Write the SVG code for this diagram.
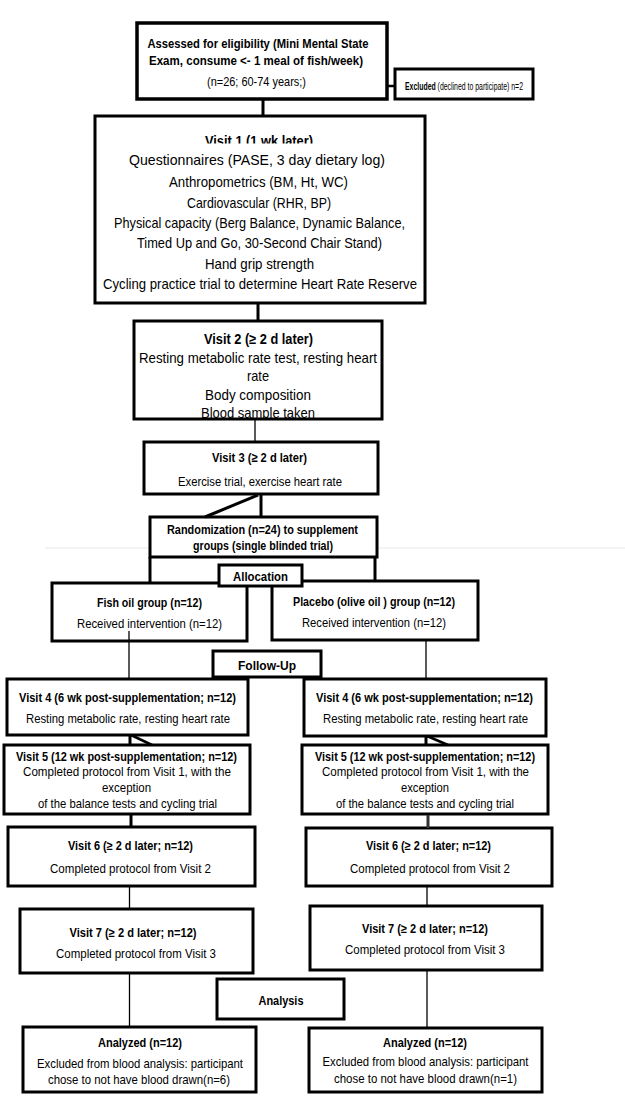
<svg xmlns="http://www.w3.org/2000/svg" width="625" height="1097" viewBox="0 0 625 1097">
<style>
.box{fill:#fff;stroke:#000;stroke-width:3}
.t{font-family:"Liberation Sans",Arial,sans-serif;fill:#000;text-anchor:middle}
.b{font-weight:bold}
.s13{font-size:13px}
.s14{font-size:14.5px}
.s12{font-size:12.5px}
.s11{font-size:11px}
.thick{stroke:#000;stroke-width:3;fill:none}
.thin{stroke:#000;stroke-width:1.3;fill:none}
</style>
<defs>
<clipPath id="cv1t"><rect x="95" y="118" width="330" height="25.5"/></clipPath>
<clipPath id="cv2"><rect x="134" y="321" width="248" height="97"/></clipPath>
</defs>
<rect width="625" height="1097" fill="#fff"/>
<line x1="45" y1="548" x2="625" y2="548" stroke="#e8e8e8" stroke-width="1"/>

<g id="assessed">
<rect class="box" x="137" y="23" width="250" height="76" style="stroke-width:3.5"/>
<text class="t b s13" x="258" y="47.5" textLength="221" lengthAdjust="spacingAndGlyphs">Assessed for eligibility (Mini Mental State</text>
<text class="t b s13" x="256" y="64.5" textLength="214" lengthAdjust="spacingAndGlyphs">Exam, consume &lt;- 1 meal of fish/week)</text>
<text class="t s13" x="256.5" y="85.5" textLength="99" lengthAdjust="spacingAndGlyphs">(n=26; 60-74 years;)</text>
</g>

<g id="excluded">
<rect class="box" x="395" y="69" width="138" height="30"/>
<text class="t s11" x="464" y="90" textLength="118" lengthAdjust="spacingAndGlyphs"><tspan class="b">Excluded</tspan> (declined to participate)  n=2</text>
</g>

<g id="visit1">
<rect class="box" x="95" y="116" width="330" height="187"/>
<text class="t b s14" x="259" y="146" textLength="108" lengthAdjust="spacingAndGlyphs" clip-path="url(#cv1t)">Visit 1 (1 wk later)</text>
<text class="t s14" x="257" y="165" textLength="256" lengthAdjust="spacingAndGlyphs">Questionnaires (PASE, 3 day dietary log)</text>
<text class="t s14" x="258.5" y="187" textLength="179" lengthAdjust="spacingAndGlyphs">Anthropometrics (BM, Ht, WC)</text>
<text class="t s14" x="259" y="208" textLength="144" lengthAdjust="spacingAndGlyphs">Cardiovascular (RHR, BP)</text>
<text class="t s14" x="259.5" y="228" textLength="291" lengthAdjust="spacingAndGlyphs">Physical capacity (Berg Balance, Dynamic Balance,</text>
<text class="t s14" x="259.5" y="248" textLength="245" lengthAdjust="spacingAndGlyphs">Timed Up and Go, 30-Second Chair Stand)</text>
<text class="t s14" x="259.5" y="269" textLength="109" lengthAdjust="spacingAndGlyphs">Hand grip strength</text>
<text class="t s14" x="260" y="289" textLength="314" lengthAdjust="spacingAndGlyphs">Cycling practice trial to determine Heart Rate Reserve</text>
</g>

<g id="visit2">
<g clip-path="url(#cv2)">
<text class="t b s14" x="258.5" y="344" textLength="109" lengthAdjust="spacingAndGlyphs">Visit 2 (≥ 2 d later)</text>
<text class="t s14" x="258" y="363" textLength="238" lengthAdjust="spacingAndGlyphs">Resting metabolic rate test, resting heart</text>
<text class="t s14" x="258" y="381" textLength="22" lengthAdjust="spacingAndGlyphs">rate</text>
<text class="t s14" x="258" y="400" textLength="106" lengthAdjust="spacingAndGlyphs">Body composition</text>
<text class="t s14" x="258" y="418" textLength="114" lengthAdjust="spacingAndGlyphs">Blood sample taken</text>
</g>
<rect class="box" x="134" y="321" width="248" height="98" style="fill:none"/>
</g>

<g id="visit3">
<rect class="box" x="144" y="442" width="234" height="52"/>
<text class="t b s13" x="259.5" y="461.5" textLength="95" lengthAdjust="spacingAndGlyphs">Visit 3 (≥ 2 d later)</text>
<text class="t s13" x="260" y="485.5" textLength="164" lengthAdjust="spacingAndGlyphs">Exercise trial, exercise heart rate</text>
</g>

<g id="randomization">
<rect class="box" x="150" y="517" width="227" height="40"/>
<text class="t b s13" x="262.5" y="533.5" textLength="191" lengthAdjust="spacingAndGlyphs">Randomization (n=24) to supplement</text>
<text class="t b s13" x="263" y="549.5" textLength="140" lengthAdjust="spacingAndGlyphs">groups (single blinded trial)</text>
</g>

<g id="fishoil">
<rect class="box" x="52" y="583" width="195" height="58"/>
<text class="t b s12" x="149.5" y="606.5" textLength="105" lengthAdjust="spacingAndGlyphs">Fish oil group (n=12)</text>
<text class="t s13" x="149.5" y="627.5" textLength="145" lengthAdjust="spacingAndGlyphs">Received intervention (n=12)</text>
</g>

<g id="placebo">
<rect class="box" x="272" y="581" width="206" height="59"/>
<text class="t b s12" x="374" y="605.5" textLength="162" lengthAdjust="spacingAndGlyphs">Placebo (olive oil ) group (n=12)</text>
<text class="t s13" x="374" y="626.5" textLength="144" lengthAdjust="spacingAndGlyphs">Received intervention (n=12)</text>
</g>

<g id="allocation">
<rect class="box" x="219" y="565" width="83" height="21"/>
<text class="t b s13" x="260.5" y="580.5" textLength="55" lengthAdjust="spacingAndGlyphs">Allocation</text>
</g>

<g id="followup">
<rect class="box" x="213" y="651" width="108" height="26"/>
<text class="t b s13" x="267" y="669.5" textLength="58" lengthAdjust="spacingAndGlyphs">Follow-Up</text>
</g>

<g id="visit4-fish">
<rect class="box" x="7" y="679" width="241" height="56"/>
<text class="t b s12" x="127.5" y="701.5" textLength="217" lengthAdjust="spacingAndGlyphs">Visit  4 (6 wk post-supplementation; n=12)</text>
<text class="t s13" x="128" y="722.5" textLength="204" lengthAdjust="spacingAndGlyphs">Resting metabolic rate, resting heart rate</text>
</g>

<g id="visit4-placebo">
<rect class="box" x="304" y="679" width="242" height="57"/>
<text class="t b s12" x="424.5" y="701.5" textLength="217" lengthAdjust="spacingAndGlyphs">Visit  4 (6 wk post-supplementation; n=12)</text>
<text class="t s13" x="425.5" y="722.5" textLength="205" lengthAdjust="spacingAndGlyphs">Resting metabolic rate, resting heart rate</text>
</g>

<g id="visit5-fish">
<rect class="box" x="4" y="745" width="246" height="69"/>
<text class="t b s12" x="126.5" y="760.5" textLength="221" lengthAdjust="spacingAndGlyphs">Visit 5 (12 wk post-supplementation; n=12)</text>
<text class="t s13" x="127" y="775.5" textLength="208" lengthAdjust="spacingAndGlyphs">Completed protocol from Visit 1, with the</text>
<text class="t s13" x="126.5" y="791.5" textLength="49" lengthAdjust="spacingAndGlyphs">exception</text>
<text class="t s13" x="127.5" y="807.5" textLength="179" lengthAdjust="spacingAndGlyphs">of the balance tests and cycling trial</text>
</g>

<g id="visit5-placebo">
<rect class="box" x="302" y="745" width="246" height="69"/>
<text class="t b s12" x="425" y="760.5" textLength="220" lengthAdjust="spacingAndGlyphs">Visit 5 (12 wk post-supplementation; n=12)</text>
<text class="t s13" x="425.5" y="775.5" textLength="207" lengthAdjust="spacingAndGlyphs">Completed protocol from Visit 1, with the</text>
<text class="t s13" x="425" y="791.5" textLength="48" lengthAdjust="spacingAndGlyphs">exception</text>
<text class="t s13" x="425" y="807.5" textLength="178" lengthAdjust="spacingAndGlyphs">of the balance tests and cycling trial</text>
</g>

<g id="visit6-fish">
<rect class="box" x="8" y="827" width="247" height="59"/>
<text class="t b s12" x="130.5" y="849.5" textLength="125" lengthAdjust="spacingAndGlyphs">Visit 6 (≥ 2 d later; n=12)</text>
<text class="t s13" x="130.5" y="872.5" textLength="161" lengthAdjust="spacingAndGlyphs">Completed protocol from Visit 2</text>
</g>

<g id="visit6-placebo">
<rect class="box" x="306" y="828" width="246" height="58"/>
<text class="t b s12" x="428.5" y="849.5" textLength="125" lengthAdjust="spacingAndGlyphs">Visit 6 (≥ 2 d later; n=12)</text>
<text class="t s13" x="430" y="872.5" textLength="160" lengthAdjust="spacingAndGlyphs">Completed protocol from Visit 2</text>
</g>

<g id="visit7-fish">
<rect class="box" x="20" y="909" width="233" height="64"/>
<text class="t b s12" x="133" y="936.5" textLength="127" lengthAdjust="spacingAndGlyphs">Visit  7 (≥ 2 d later; n=12)</text>
<text class="t s13" x="136" y="957.5" textLength="160" lengthAdjust="spacingAndGlyphs">Completed protocol from Visit 3</text>
</g>

<g id="visit7-placebo">
<rect class="box" x="310" y="906" width="232" height="64"/>
<text class="t b s12" x="425" y="932.5" textLength="126" lengthAdjust="spacingAndGlyphs">Visit  7 (≥ 2 d later; n=12)</text>
<text class="t s13" x="425" y="953.5" textLength="160" lengthAdjust="spacingAndGlyphs">Completed protocol from Visit 3</text>
</g>

<g id="analysis">
<rect class="box" x="217" y="979" width="127" height="40"/>
<text class="t b s13" x="281" y="1004.5" textLength="45" lengthAdjust="spacingAndGlyphs">Analysis</text>
</g>

<g id="analyzed-fish">
<rect class="box" x="23" y="1027" width="233" height="65"/>
<text class="t b s12" x="140" y="1046.5" textLength="84" lengthAdjust="spacingAndGlyphs">Analyzed (n=12)</text>
<text class="t s13" x="140" y="1067.5" textLength="206" lengthAdjust="spacingAndGlyphs">Excluded from blood analysis: participant</text>
<text class="t s13" x="139" y="1083.5" textLength="182" lengthAdjust="spacingAndGlyphs">chose to not have blood drawn(n=6)</text>
</g>

<g id="analyzed-placebo">
<rect class="box" x="309" y="1028" width="233" height="64"/>
<text class="t b s12" x="425" y="1046.5" textLength="84" lengthAdjust="spacingAndGlyphs">Analyzed (n=12)</text>
<text class="t s13" x="425.5" y="1065.5" textLength="206" lengthAdjust="spacingAndGlyphs">Excluded from blood analysis: participant</text>
<text class="t s13" x="425.5" y="1082.5" textLength="183" lengthAdjust="spacingAndGlyphs">chose to not have blood drawn(n=1)</text>
</g>

<g id="connectors">
<line class="thick" x1="263" y1="100" x2="263" y2="116"/>
<line class="thick" x1="388" y1="86" x2="395" y2="86" style="stroke-width:2.5"/>
<line class="thick" x1="258" y1="304" x2="258" y2="321"/>
<line class="thin" x1="255" y1="420" x2="255" y2="442"/>
<line class="thick" x1="261" y1="495" x2="261" y2="517"/>
<line class="thick" x1="258" y1="495" x2="205" y2="517"/>
<line class="thick" x1="150" y1="557" x2="150" y2="583"/>
<line class="thick" x1="375" y1="557" x2="375" y2="581"/>
<line class="thin" x1="129" y1="631" x2="129" y2="679"/>
<line class="thin" x1="426" y1="641" x2="426" y2="679"/>
<line class="thick" x1="130" y1="735" x2="130" y2="745"/>
<line class="thick" x1="131" y1="735" x2="152" y2="745" style="stroke-width:2.5"/>
<line class="thick" x1="426" y1="736" x2="426" y2="745"/>
<line class="thick" x1="427" y1="736" x2="448" y2="745" style="stroke-width:2.5"/>
<line class="thick" x1="131" y1="815" x2="131" y2="827"/>
<line class="thick" x1="428" y1="815" x2="428" y2="828" style="stroke:#333"/>
<line class="thin" x1="129.5" y1="887" x2="129.5" y2="909"/>
<line class="thin" x1="427" y1="887" x2="427" y2="906"/>
<line class="thin" x1="129.5" y1="974" x2="129.5" y2="1027"/>
<line class="thin" x1="427" y1="971" x2="427" y2="1028"/>
</g>
</svg>
